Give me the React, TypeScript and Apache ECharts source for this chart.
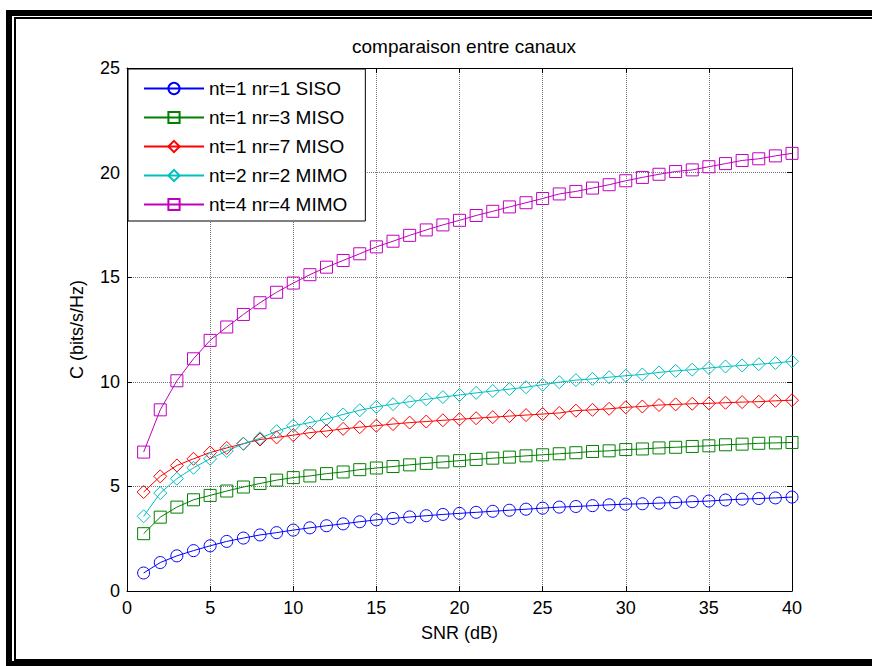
import React, { useEffect, useRef } from "react";
import * as echarts from "echarts";

const snr = [1, 2, 3, 4, 5, 6, 7, 8, 9, 10, 11, 12, 13, 14, 15, 16, 17, 18, 19, 20, 21, 22, 23, 24, 25, 26, 27, 28, 29, 30, 31, 32, 33, 34, 35, 36, 37, 38, 39, 40];

const siso = [0.86, 1.36, 1.68, 1.93, 2.16, 2.37, 2.53, 2.68, 2.79, 2.91, 3.02, 3.12, 3.21, 3.31, 3.40, 3.47, 3.54, 3.60, 3.66, 3.71, 3.76, 3.81, 3.86, 3.91, 3.96, 4.01, 4.04, 4.08, 4.12, 4.15, 4.17, 4.20, 4.23, 4.27, 4.30, 4.35, 4.39, 4.42, 4.45, 4.49];
const miso3 = [2.74, 3.53, 4.01, 4.36, 4.57, 4.78, 4.97, 5.14, 5.30, 5.42, 5.50, 5.61, 5.69, 5.80, 5.88, 5.95, 6.03, 6.10, 6.17, 6.23, 6.29, 6.35, 6.40, 6.46, 6.51, 6.56, 6.61, 6.67, 6.70, 6.76, 6.79, 6.84, 6.87, 6.91, 6.94, 6.99, 7.02, 7.06, 7.08, 7.10];
const miso7 = [4.73, 5.48, 6.00, 6.32, 6.62, 6.84, 7.04, 7.24, 7.34, 7.45, 7.57, 7.65, 7.75, 7.83, 7.90, 7.98, 8.05, 8.10, 8.16, 8.21, 8.26, 8.31, 8.36, 8.41, 8.46, 8.51, 8.62, 8.66, 8.71, 8.78, 8.82, 8.89, 8.92, 8.95, 8.97, 9.00, 9.03, 9.05, 9.09, 9.12];
const mimo2 = [3.57, 4.68, 5.37, 5.89, 6.32, 6.69, 7.04, 7.30, 7.64, 7.90, 8.05, 8.22, 8.44, 8.64, 8.80, 8.93, 9.05, 9.16, 9.27, 9.37, 9.47, 9.56, 9.65, 9.74, 9.86, 9.98, 10.08, 10.14, 10.22, 10.29, 10.35, 10.45, 10.52, 10.58, 10.66, 10.73, 10.78, 10.84, 10.90, 10.98];
const mimo4 = [6.64, 8.66, 10.05, 11.10, 11.98, 12.62, 13.22, 13.78, 14.28, 14.72, 15.12, 15.48, 15.80, 16.12, 16.45, 16.72, 17.00, 17.26, 17.50, 17.72, 17.95, 18.15, 18.36, 18.56, 18.76, 18.98, 19.10, 19.26, 19.42, 19.61, 19.77, 19.92, 20.05, 20.13, 20.28, 20.43, 20.58, 20.66, 20.80, 20.92];

const seriesNames = ["nt=1 nr=1 SISO", "nt=1 nr=3 MISO", "nt=1 nr=7 MISO", "nt=2 nr=2 MIMO", "nt=4 nr=4 MIMO"];
const seriesValues = [siso, miso3, miso7, mimo2, mimo4];
const seriesColors = ["#0000ff", "#008000", "#ff0000", "#00bfbf", "#bf00bf"];
const seriesSymbols = ["circle", "rect", "diamond", "diamond", "rect"];
const seriesSymbolSizes = [12, 12, 13, 13, 12];

const titleText = "comparaison entre canaux";
const xName = "SNR (dB)";
const yName = "C (bits/s/Hz)";

const FONT = "'Liberation Sans', Arial, Helvetica, sans-serif";

export default function App() {
  const ref = useRef<HTMLDivElement>(null);
  useEffect(() => {
    if (!ref.current) return;
    const chart = echarts.init(ref.current, null, { renderer: "svg" });
    const axisCommon = {
      axisLine: { show: true, onZero: false, lineStyle: { color: "#000", width: 1 } },
      axisTick: { show: true, inside: true, length: 5, lineStyle: { color: "#000" } },
    };
    chart.setOption({
      animation: false,
      backgroundColor: "#fff",
      textStyle: { fontFamily: FONT },
      title: {
        text: titleText,
        left: 459,
        top: 32,
        textAlign: "center",
        textStyle: { fontSize: 19, fontWeight: "normal", color: "#000", fontFamily: FONT },
      },
      grid: { left: 127, right: 80, top: 68, bottom: 75, containLabel: false },
      legend: {
        data: seriesNames,
        orient: "vertical",
        left: 128,
        top: 69,
        itemWidth: 60,
        itemHeight: 14,
        itemGap: 10,
        padding: [10, 18, 7, 15],
        backgroundColor: "#fff",
        borderColor: "#000",
        borderWidth: 1,
        borderRadius: 0,
        textStyle: { fontSize: 19, color: "#000", fontFamily: FONT },
      },
      xAxis: [
        {
          type: "value",
          min: 0,
          max: 40,
          interval: 5,
          name: xName,
          nameLocation: "middle",
          nameGap: 33,
          nameTextStyle: { fontSize: 18, color: "#000", fontFamily: FONT },
          ...axisCommon,
          axisLabel: { fontSize: 18, color: "#000", margin: 8, fontFamily: FONT },
          splitLine: { show: true, lineStyle: { color: "#777", type: "dotted", width: 1 } },
        },
        {
          type: "value",
          position: "top",
          min: 0,
          max: 40,
          interval: 5,
          ...axisCommon,
          axisLabel: { show: false },
          splitLine: { show: false },
        },
      ],
      yAxis: [
        {
          type: "value",
          min: 0,
          max: 25,
          interval: 5,
          name: yName,
          nameLocation: "middle",
          nameGap: 41,
          nameTextStyle: { fontSize: 18, color: "#000", fontFamily: FONT },
          ...axisCommon,
          axisLabel: { fontSize: 18, color: "#000", margin: 7, fontFamily: FONT },
          splitLine: { show: true, lineStyle: { color: "#777", type: "dotted", width: 1 } },
        },
        {
          type: "value",
          position: "right",
          min: 0,
          max: 25,
          interval: 5,
          ...axisCommon,
          axisLabel: { show: false },
          splitLine: { show: false },
        },
      ],
      series: seriesNames.map((name, i) => ({
        name,
        type: "line",
        xAxisIndex: 0,
        yAxisIndex: 0,
        data: snr.map((x, j) => [x, seriesValues[i][j]]),
        symbol: seriesSymbols[i],
        symbolSize: seriesSymbolSizes[i],
        showAllSymbol: true,
        lineStyle: { color: seriesColors[i], width: 1 },
        itemStyle: { color: "rgba(255,255,255,0)", borderColor: seriesColors[i], borderWidth: 1 },
        emphasis: { disabled: true },
      })),
      graphic: [
        {
          type: "rect",
          silent: true,
          shape: { x: 9, y: 13, width: 900, height: 651 },
          style: { fill: "none", stroke: "#000", lineWidth: 6 },
        },
        {
          type: "rect",
          silent: true,
          shape: { x: 15, y: 18, width: 900, height: 642 },
          style: { fill: "none", stroke: "#000", lineWidth: 2 },
        },
      ],
    });
    return () => chart.dispose();
  }, []);
  return (
    <div
      ref={ref}
      style={{ position: "fixed", left: 0, top: 0, width: 872, height: 666, background: "#fff" }}
    />
  );
}
